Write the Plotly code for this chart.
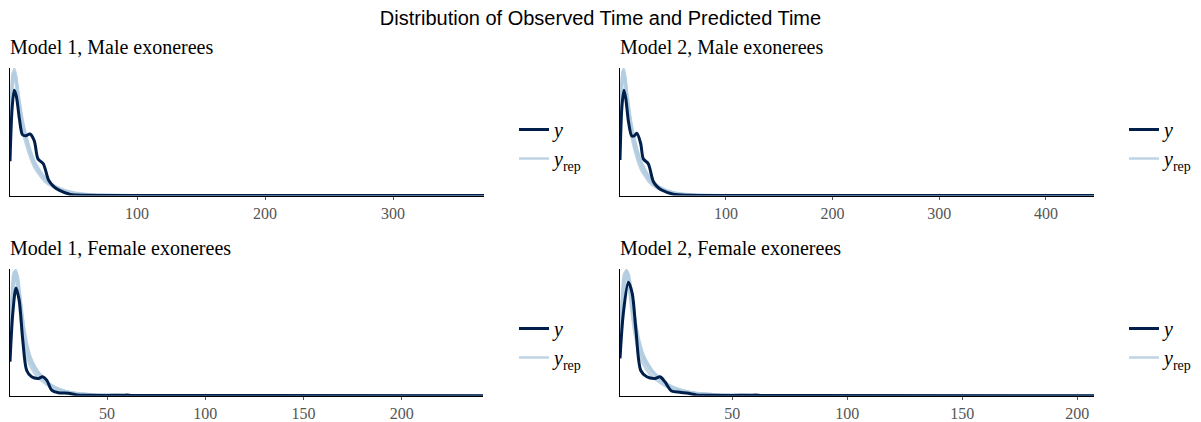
import plotly.graph_objects as go

# ---------------- data (relative density) ----------------
# Model 1, Male
m1m_obs_x = [0.8, 2.4, 4.1, 5.8, 8.2, 10.5, 13.0, 16.4, 19.8, 22.6, 26.8, 31, 35, 39.5, 48, 60, 100, 371]
m1m_obs_d = [0.27, 0.68, 0.83, 0.78, 0.60, 0.48, 0.47, 0.485, 0.43, 0.29, 0.25, 0.12, 0.07, 0.04, 0.008, 0.002, 0, 0]
m1m_rep_x = [0.8, 2, 3, 4.2, 5.5, 7, 9, 11, 14, 17, 20, 24, 28, 33, 40, 50, 60, 75, 100, 150, 371]
m1m_rep = [
    [0.40, 0.80, 0.95, 1.00, 0.95, 0.82, 0.66, 0.54, 0.42, 0.32, 0.25, 0.18, 0.13, 0.085, 0.045, 0.018, 0.008, 0.003, 0.001, 0.0003, 0],
    [0.35, 0.70, 0.86, 0.92, 0.90, 0.80, 0.67, 0.56, 0.44, 0.34, 0.26, 0.19, 0.135, 0.09, 0.05, 0.022, 0.010, 0.004, 0.0012, 0.0004, 0],
    [0.45, 0.85, 0.97, 0.96, 0.88, 0.75, 0.60, 0.49, 0.38, 0.29, 0.22, 0.16, 0.11, 0.075, 0.04, 0.016, 0.007, 0.0025, 0.0008, 0.0002, 0],
    [0.38, 0.76, 0.92, 0.97, 0.93, 0.83, 0.70, 0.58, 0.45, 0.35, 0.27, 0.20, 0.145, 0.095, 0.055, 0.025, 0.012, 0.005, 0.0015, 0.0005, 0],
]

# Model 2, Male
m2m_obs_x = [0.7, 2.5, 4.4, 6.2, 8.5, 11.7, 14.0, 16.4, 20.1, 22.5, 27.2, 31.9, 35.5, 39.8, 50.6, 65, 100, 445]
m2m_obs_d = [0.28, 0.70, 0.83, 0.76, 0.59, 0.47, 0.47, 0.49, 0.41, 0.29, 0.25, 0.11, 0.07, 0.043, 0.01, 0.002, 0, 0]
m2m_rep_x = [0.7, 2, 3, 4.2, 5.5, 7, 9, 11, 14, 17, 20, 24, 28, 33, 40, 50, 60, 75, 100, 150, 445]
m2m_rep = [
    [0.42, 0.82, 0.96, 1.00, 0.94, 0.80, 0.64, 0.52, 0.40, 0.31, 0.24, 0.17, 0.12, 0.08, 0.043, 0.018, 0.008, 0.003, 0.001, 0.0003, 0],
    [0.36, 0.72, 0.88, 0.93, 0.91, 0.81, 0.68, 0.57, 0.45, 0.35, 0.27, 0.20, 0.14, 0.093, 0.052, 0.023, 0.011, 0.004, 0.0013, 0.0004, 0],
    [0.46, 0.86, 0.98, 0.95, 0.86, 0.73, 0.59, 0.48, 0.37, 0.28, 0.21, 0.155, 0.105, 0.07, 0.038, 0.015, 0.007, 0.0025, 0.0008, 0.0002, 0],
    [0.39, 0.77, 0.93, 0.98, 0.94, 0.84, 0.71, 0.59, 0.46, 0.36, 0.28, 0.21, 0.15, 0.10, 0.058, 0.027, 0.013, 0.005, 0.0016, 0.0005, 0],
]

# Model 1, Female
m1f_obs_x = [0.6, 2.0, 3.65, 5.3, 7.1, 9.1, 11.6, 15.0, 17.2, 19.3, 21.8, 25.2, 30.3, 34.6, 41.3, 50, 58, 60, 63, 80, 241.4]
m1f_obs_d = [0.27, 0.65, 0.855, 0.755, 0.44, 0.20, 0.15, 0.137, 0.15, 0.124, 0.045, 0.024, 0.019, 0.006, 0.003, 0.002, 0.004, 0.005, 0.002, 0.001, 0]
m1f_rep_x = [0.6, 1.5, 2.5, 3.5, 4.5, 5.5, 6.5, 8, 9.5, 11, 13, 15, 17.5, 20, 23, 27, 32, 40, 50, 65, 90, 130, 241.4]
m1f_rep = [
    [0.35, 0.72, 0.95, 1.00, 0.93, 0.78, 0.62, 0.45, 0.34, 0.27, 0.21, 0.17, 0.13, 0.095, 0.065, 0.04, 0.022, 0.011, 0.005, 0.002, 0.0008, 0.0002, 0],
    [0.30, 0.62, 0.85, 0.93, 0.90, 0.80, 0.68, 0.52, 0.40, 0.31, 0.24, 0.19, 0.145, 0.105, 0.072, 0.045, 0.025, 0.012, 0.006, 0.0025, 0.001, 0.0003, 0],
    [0.40, 0.80, 0.98, 0.97, 0.85, 0.68, 0.53, 0.38, 0.29, 0.23, 0.18, 0.14, 0.11, 0.08, 0.055, 0.033, 0.018, 0.009, 0.004, 0.0015, 0.0006, 0.0001, 0],
    [0.33, 0.68, 0.90, 0.98, 0.95, 0.84, 0.70, 0.50, 0.36, 0.28, 0.22, 0.18, 0.14, 0.10, 0.07, 0.043, 0.024, 0.012, 0.006, 0.003, 0.001, 0.0003, 0],
    [0.38, 0.75, 0.92, 0.94, 0.86, 0.74, 0.60, 0.46, 0.37, 0.30, 0.235, 0.185, 0.14, 0.10, 0.07, 0.044, 0.025, 0.013, 0.006, 0.0025, 0.001, 0.0003, 0],
]

# Model 2, Female
m2f_obs_x = [1.17, 2.6, 4.8, 6.5, 8.1, 10.2, 12.8, 16.4, 18.6, 20.7, 23.6, 27.2, 30.9, 34.5, 41, 50, 58, 60, 63, 80, 207.3]
m2f_obs_d = [0.295, 0.65, 0.90, 0.81, 0.52, 0.20, 0.15, 0.137, 0.15, 0.11, 0.037, 0.027, 0.019, 0.006, 0.003, 0.002, 0.004, 0.005, 0.002, 0.001, 0]
m2f_rep_x = [1.17, 2, 3, 4, 5, 6, 7, 8.5, 10, 11.5, 13.5, 15.5, 18, 20.5, 23.5, 27.5, 32.5, 40, 50, 65, 90, 130, 207.3]
m2f_rep = [
    [0.36, 0.70, 0.94, 1.00, 0.94, 0.80, 0.64, 0.47, 0.35, 0.28, 0.22, 0.175, 0.135, 0.10, 0.068, 0.042, 0.023, 0.012, 0.005, 0.002, 0.0008, 0.0002, 0],
    [0.31, 0.60, 0.84, 0.94, 0.91, 0.81, 0.69, 0.53, 0.41, 0.32, 0.25, 0.195, 0.15, 0.11, 0.075, 0.047, 0.026, 0.013, 0.006, 0.0025, 0.001, 0.0003, 0],
    [0.41, 0.78, 0.97, 0.98, 0.86, 0.70, 0.55, 0.40, 0.30, 0.24, 0.185, 0.145, 0.11, 0.08, 0.056, 0.034, 0.019, 0.009, 0.004, 0.0015, 0.0006, 0.0001, 0],
    [0.34, 0.66, 0.89, 0.99, 0.96, 0.85, 0.71, 0.52, 0.37, 0.29, 0.23, 0.185, 0.145, 0.105, 0.072, 0.044, 0.025, 0.012, 0.006, 0.003, 0.001, 0.0003, 0],
    [0.39, 0.73, 0.91, 0.95, 0.87, 0.75, 0.61, 0.47, 0.38, 0.31, 0.24, 0.19, 0.145, 0.105, 0.072, 0.045, 0.026, 0.013, 0.006, 0.0025, 0.001, 0.0003, 0],
]

panel_titles = ["Model 1, Male exonerees", "Model 2, Male exonerees",
                "Model 1, Female exonerees", "Model 2, Female exonerees"]
tick_vals = [[100, 200, 300], [100, 200, 300, 400], [50, 100, 150, 200], [50, 100, 150, 200]]
main_title = "Distribution of Observed Time and Predicted Time"

# ---------------- styling / layout ----------------
W, H = 1201, 422
DARK = "#011f4b"
LIGHT = "rgba(179,205,224,0.85)"
SERIF = "Liberation Serif, Times New Roman, serif"
SANS = "Liberation Sans, Arial, sans-serif"

panels = [
    (m1m_obs_x, m1m_obs_d, m1m_rep_x, m1m_rep, (10, 484), (68, 195.5)),
    (m2m_obs_x, m2m_obs_d, m2m_rep_x, m2m_rep, (620, 1094), (68, 195.5)),
    (m1f_obs_x, m1f_obs_d, m1f_rep_x, m1f_rep, (10, 483), (269, 395.7)),
    (m2f_obs_x, m2f_obs_d, m2f_rep_x, m2f_rep, (620, 1094), (269, 395.7)),
]
legend_pos = [(514, 144), (1124, 144), (514, 343), (1124, 343)]

fig = go.Figure()
layout = dict()
annotations = []
for i, (ox, od, rx, reps, (px0, px1), (py0, py1)) in enumerate(panels):
    k = "" if i == 0 else str(i + 1)
    lg = "legend" + k
    for j, rep in enumerate(reps):
        fig.add_trace(go.Scatter(
            x=rx, y=rep, mode="lines", xaxis="x" + k, yaxis="y" + k,
            line=dict(color=LIGHT, width=2.5, shape="spline", smoothing=0.8),
            name="<i>y</i><sub>rep</sub>", legend=lg, legendrank=2,
            showlegend=(j == 0), hoverinfo="skip"))
    fig.add_trace(go.Scatter(
        x=ox, y=od, mode="lines", xaxis="x" + k, yaxis="y" + k,
        line=dict(color=DARK, width=3, shape="spline", smoothing=0.8),
        name="<i>y</i>", legend=lg, legendrank=1, hoverinfo="skip"))

    ymax = max(max(r) for r in reps + [od])
    layout["xaxis" + k] = dict(
        domain=[px0 / W, px1 / W], anchor="y" + k,
        range=[min(ox[0], rx[0]), max(ox[-1], rx[-1])],
        tickvals=tick_vals[i], ticks="outside", ticklen=3, tickcolor="#555",
        tickfont=dict(family=SERIF, size=16, color="#555"),
        showline=True, linecolor="black", linewidth=1, showgrid=False, zeroline=False)
    layout["yaxis" + k] = dict(
        domain=[(H - py1) / H, (H - py0) / H], anchor="x" + k,
        range=[0, ymax * 1.005], showticklabels=False, ticks="",
        showline=True, linecolor="black", linewidth=1, showgrid=False, zeroline=False)
    lx, ly = legend_pos[i]
    layout[lg] = dict(x=lx / W, y=(H - ly) / H, xanchor="left", yanchor="middle",
                      font=dict(family=SERIF, size=20, color="black"),
                      bgcolor="rgba(0,0,0,0)", traceorder="normal")
    annotations.append(dict(
        text=panel_titles[i], x=(px0 - 2) / W, y=(H - (py0 - 21)) / H, xref="paper", yref="paper",
        xanchor="left", yanchor="middle", showarrow=False,
        font=dict(family=SERIF, size=20, color="black")))

fig.update_layout(
    width=W, height=H, margin=dict(l=0, r=0, t=0, b=0),
    paper_bgcolor="white", plot_bgcolor="white",
    title=dict(text=main_title, x=0.5, xanchor="center", y=1 - 18 / H, yanchor="middle",
               yref="container", font=dict(family=SANS, size=20, color="black")),
    annotations=annotations,
    **layout)

fig.write_html("out.html")
